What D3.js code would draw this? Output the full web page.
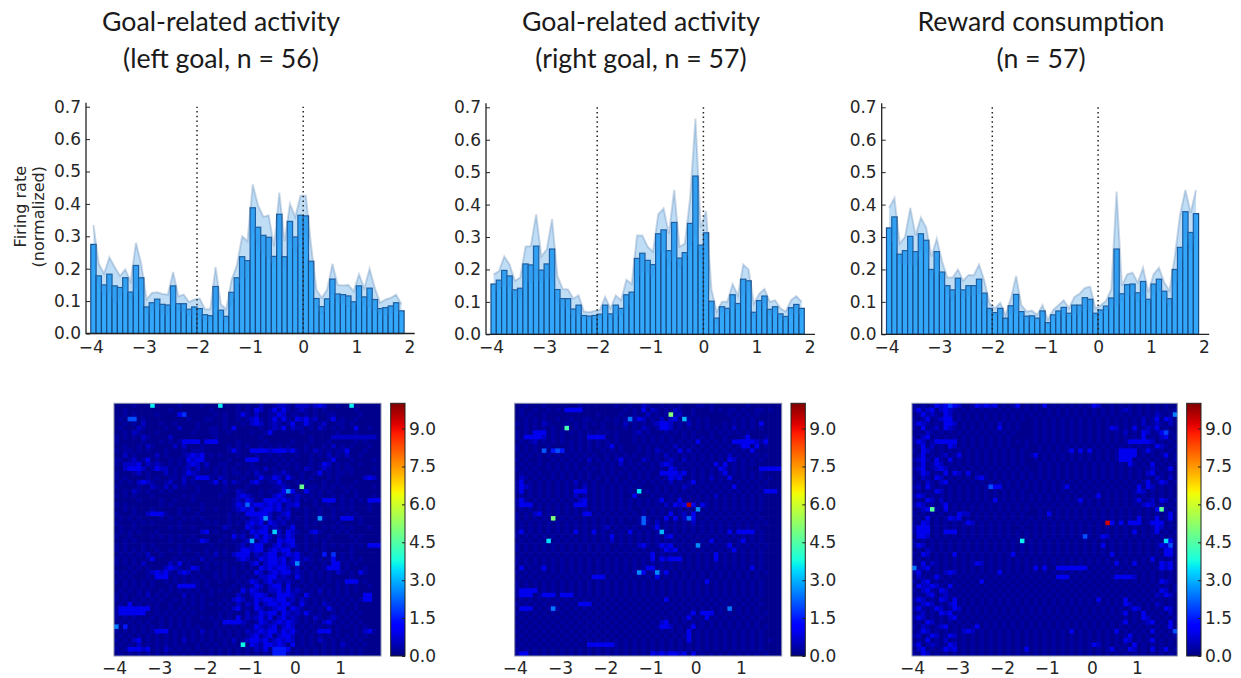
<!DOCTYPE html>
<html><head><meta charset="utf-8">
<script src="https://cdn.jsdelivr.net/npm/d3@7/dist/d3.min.js"></script>
<style>html,body{margin:0;padding:0;background:#fff}svg{display:block}</style></head>
<body><svg id="c" width="1241" height="678"></svg>
<script>
const titles = [
  ["Goal-related activity", "(left goal, n = 56)"],
  ["Goal-related activity", "(right goal, n = 57)"],
  ["Reward consumption", "(n = 57)"]
];
const yLabel = ["Firing rate", "(normalized)"];
const yTicks = [0, .1, .2, .3, .4, .5, .6, .7];
const xTicks = [-4, -3, -2, -1, 0, 1, 2];
const heatXTicks = [-4, -3, -2, -1, 0, 1];
const cbTicks = [0, 1.5, 3, 4.5, 6, 7.5, 9];
const binStart = -4, binWidth = 0.1;

const mean1 = [.275,.178,.15,.183,.147,.142,.172,.128,.21,.172,.082,.095,.106,.09,.088,.147,.092,.092,.075,.082,.077,.058,.055,.145,.072,.053,.127,.172,.237,.225,.388,.328,.303,.297,.238,.368,.237,.346,.298,.365,.363,.223,.108,.083,.107,.168,.122,.12,.116,.098,.147,.113,.14,.105,.077,.08,.085,.095,.07];
const upper1 = [.335,.215,.185,.235,.205,.178,.198,.16,.28,.215,.105,.125,.127,.122,.12,.19,.115,.12,.097,.105,.108,.075,.075,.205,.09,.075,.165,.21,.30,.285,.46,.395,.36,.365,.27,.435,.285,.40,.36,.425,.425,.27,.135,.11,.135,.215,.15,.148,.15,.13,.183,.14,.2,.14,.095,.105,.11,.12,.09];
const lower1 = [.215,.141,.115,.131,.089,.106,.146,.096,.14,.129,.059,.065,.085,.058,.056,.104,.069,.064,.053,.059,.046,.041,.035,.085,.054,.031,.089,.134,.174,.165,.316,.261,.246,.229,.206,.301,.189,.292,.236,.305,.301,.176,.081,.056,.079,.121,.094,.092,.082,.066,.111,.086,.08,.07,.059,.055,.06,.07,.05];

const mean2 = [.155,.167,.197,.18,.137,.142,.217,.214,.272,.198,.217,.263,.138,.11,.11,.078,.09,.058,.056,.058,.062,.09,.063,.09,.08,.122,.13,.234,.25,.228,.215,.31,.322,.258,.345,.235,.252,.342,.488,.275,.313,.102,.05,.085,.08,.122,.095,.17,.165,.068,.104,.118,.077,.085,.063,.055,.082,.092,.08];
const upper2 = [.185,.195,.24,.215,.165,.175,.27,.272,.37,.24,.262,.355,.18,.14,.138,.11,.12,.07,.068,.072,.075,.115,.08,.12,.105,.168,.155,.305,.305,.27,.255,.37,.388,.31,.445,.27,.28,.42,.665,.33,.38,.14,.07,.1,.1,.155,.12,.215,.2,.095,.125,.14,.1,.105,.08,.07,.105,.118,.1];
const lower2 = [.125,.139,.154,.145,.109,.109,.164,.156,.174,.156,.172,.171,.096,.08,.082,.046,.06,.046,.044,.044,.049,.065,.046,.06,.055,.076,.105,.163,.195,.186,.175,.25,.256,.206,.245,.2,.224,.264,.311,.22,.246,.064,.03,.07,.06,.089,.07,.125,.13,.041,.083,.096,.054,.065,.046,.04,.059,.066,.06];

const mean3 = [.328,.362,.247,.258,.302,.255,.31,.29,.2,.255,.192,.15,.137,.173,.137,.15,.15,.17,.127,.08,.067,.08,.05,.088,.123,.07,.056,.057,.05,.072,.036,.06,.072,.083,.065,.09,.09,.113,.108,.065,.075,.087,.112,.263,.125,.153,.155,.128,.163,.108,.155,.17,.133,.11,.2,.268,.378,.314,.372];
const upper3 = [.39,.42,.28,.30,.39,.305,.36,.33,.24,.295,.225,.175,.175,.2,.165,.183,.182,.215,.165,.095,.08,.097,.06,.11,.18,.09,.07,.073,.06,.09,.045,.075,.09,.105,.08,.115,.125,.143,.147,.08,.09,.103,.14,.44,.15,.185,.19,.16,.205,.13,.185,.205,.16,.135,.24,.37,.445,.375,.445];
const lower3 = [.266,.304,.214,.216,.214,.205,.26,.25,.16,.215,.159,.125,.099,.146,.109,.117,.118,.125,.089,.065,.054,.063,.04,.066,.066,.05,.042,.041,.04,.054,.027,.045,.054,.061,.05,.065,.055,.083,.069,.05,.06,.071,.084,.086,.1,.121,.12,.096,.121,.086,.125,.135,.106,.085,.16,.166,.311,.253,.299];

// Trial-by-bin rates: one string per row, one character per bin (rows run top to bottom).
const levels = {".":0.12, "-":0.3, "+":0.6, "#":0.95, "@":1.45};
const heat1 = [
"....-.........-....-.......-.-..+..-++-.+++-+#+..-.........",
"..-.........-........-.....-.-.#+.-#-#-.-+-.-.-......-.....",
"..-.-....-....#.......-.-..-#-.+..--#+.--.-.-..--.....-....",
".-.##.-.........-...--..-..-.-+#-.-#-#-.#+#-+..-#.-..-.....",
"..-.-.+...-..-....-.....-...-.+#+.-+-.-#.-#-.-+..--.-......",
".-...+-....-..+...-..--.-.#.....-.-+-#.+--.-.+-.-.-..#..-..",
"..-.+-...-.......-...--..-....-..-#......-.......-...-.....",
"-.-.-.+-....+.........-.........-..........-....++++++++++.",
"-.....-...-.-.-####.###....-.....-.....-...-...-.....-.-...",
"..-..-.+-....+.+...-.....-.-.-..-.-.-.-...-...-.+.-.-...-..",
"-.--.-.-...-...-.---.....-#-..####+###+#-.-.+-.-.--#...-...",
"..+.-....+.-...-+#+#.-.-...-...-..-.-...-..-.-.+.-.+..-....",
"--.-+.-#.-..-.-.#+##.....-...###.-.-.-.-...-...-#...-....-.",
"-.+++#.+-+-.-.-.+#+.+..--..-..-.....-.-.-..-.-#+.-.-..-....",
"..+###+.-#++.-.-+.+.-.-.-.-...--.+.-.-..-.+-.-+-.-.--....-.",
"-...-+.-...+.-.-#+-...-.-.--.-.+-..--+-..-..-#.-.--.-......",
"-.-....-.-..--.+.-###-.+-...-..-#--#+.#-.-.-...-.-.....+#+.",
".-.-.+#+-..-+..+.-...-#.+.+-..+#-.--#-..-.-...-..-...-.....",
"-....-..+-.+.+.-..-.....-....-.....--+-..-.--.-.-.-.-....-.",
"..-.+-.-..-.-.....-.....-..+-...-.-.-###..#-.-.-...-.-.....",
"-.-.-...-......-.-.....-...+#+-.-..+#+.-+-.-.-..-.-..-...-.",
".....-....-..-...-........-+-#+..###+#+-+.-.-.###.-.-.-.###.",
"-.-.......-.-......-......-#+.+##+#+#.++#...-..-..-.-...-..",
"..-.-...-.....-.-..-..-...-+#+#.+##+#-+.-.-..-..-.-.-...-..",
"-...-..+###-..-...-......-.-.#####+.-+#...-..-..-..-.-.....",
".-.-.-....-.-..-.-.-.....-..-.++##+.+-+.-.-...-.-.###.-....",
"-...-.-.-.....-.....-.-..-.-.+#+#.#+-+.-..-.-....-....-....",
".-..-.......-.-..-......+-...#+-+#-+-.-#..-...-.-.-.-...-..",
".-.-.-...-.........+#.-...-.-.#+##.#+.#+-..+#-...-.-.......",
"-..-....-.-.-.-..-......-.#-+.-#-#+.+-#+..-.-..-....-.-....",
"..-.-.......-...-.-#+..-..-.-+#.+#-.#+##..-.-.-......-.....",
"-.-...-.-.....-......-.....-+.+##..+#-+#-.-...-.-.-.-.-.###",
"-.-.-.-..-..-.-.-...-.-.-..-##+##.+#+##.-.-.-.-.....-......",
".-.-.-.+..-...-...-.-.+.-.+###.+-+##.+#+#-.-..@.-.-.-......",
"-.-.-..-#....-.-.-.+.-.....+#+.-#+##+#.+#-+-.-.-#.-.-.-....",
"-.-.-.+.....+.#.-...-.-.-...-.+#.+##+#-++-.-..-.##.-.-.....",
"...-.-.-...+#+-.-#+.-...-.-.-.-.#+#+##+.+.-.-.-###.-...-...",
"-.-.-..-+#+#-.+#+.-...-.-.-..-.#+.+#+##-+-.-.-.-.+-.-.#-...",
".-.-...-.###.-.-.-.-..-.-.-.-.-.++##-+-.#-.-.-.-....-......",
"-.-.-.-.-..-.-.-.--.-..-...-.-#+.+#-+-+-.-.-...-.-.###.-...",
"..-.-.-.-...-.####-.-.....-.-.-#+.+##.#.-.-.-.-..-.-.-..-..",
".-.-.-.-..-.-.-.-.-..-.-.-..#-#+-.++#-#-+-.-.+.-.-.-.-.....",
"-.-..-.+.-.-...+.-.-.-.....+-.+##+.-###+-.#-.-.-.-.-...##..",
"-.-.-.-.-.-..-.-.-.-....-.+#+.-#+##+##-+.+-.-.-.-.-.-.-##..",
".-.#.-.-.-..-..-.-.-.-.-.-.+.+-#.+##+##-.#-.-.+-.-.-.-.....",
"-#######.-..-.-.-..-....-.+#.-.#+.-+##.#+-.-.-.#-.-..-.....",
"-######..-.-.-.-.-.....-.-...+.-#+##.#+-+-#-.-..-.-.-.-....",
"-.-.-...-.-.-.-.-..-.-.-.-.#.+-+#-#.+#-+-.-.+-.-+-.-.-.....",
".-.-.-.-..-.-.-.-.....-.####+-.-#+-+#+#+-.-.-.+#-.-.-.-....",
"..@.-.-.-.-.-.-.-.-...-.-.-.-.-#+-+#.+#+.-.-.-.-.-.-.-.-...",
"-.-.-.-.-###.-.-.-.+.-.-.-.-.+-+#+##-#+#-.-.-###.-...-.+#-.",
".-.-.-.-.-.-.-.-.-.-.-.-.-.-.-+#-+#.+##+.-.-.-.-.-.-.-.-...",
"-.-.+#.-.-.-.-.+.-.-.-..-.+.-+##+#-+#+#+.-.-.+-.-.-.-.-....",
".-.-.+.-.-.-.-.-..-.-.-.-.-.-.#+-##+#+.#.-.-..-.-.+-.-.-...",
"-.-###+#.-.+-.-.-.-..-.-.-.-.-.+-#.@@@#.-.-.-.-.-.-.-.-....",
".-.-.-.-.-.-.-.-.-.-.-.-.-.-.-.-.-.@@@-.-.-.-.-.-.-.-.-...."
];
const hot1 = [[8,0,3.6],[23,0,3.6],[52,0,3.6],[3,3,2],[4,3,2],[15,2,1.7],[41,18,4.8],[38,19,2.6],[29,22,2.2],[33,25,2.7],[45,25,2.7],[35,28,3.3],[30,30,2.9],[40,35,2.6],[28,53,3.7],[0,49,2.5],[48,33,1.7]];

const heat2 = [
"..-...-.......-.......-..-..+-..-.-.-...--.-.......-.......",
".-..-..-.-.####.........-.-.#.+-.-.+-..-...-.-.--.-..--.-..",
".-.-..-...........-....-..-..+.-.-.-+..-.......-.-.-.-.....",
"..-.-.-..-..-..--...-.-.-.-#+.-.+.+#..-.-.-.....-.-.-......",
"-.-.-.+-...-.-.-.-.-..-.+.-.-.-+##+.-.+.-.-...-.-.-.-.#....",
"..-.-.-.-..-.-.-...-....-.-.+-.-##+.-.-.-.-.-.-.+.-.-.-....",
"-.-.###.-.-.-.-.-.-.-.-...-+.-...-.-.-.-...-.-.-.-.-.......",
"-.####+.-.-...-.####..-...-.-.-.-.-..-.-.-.-..-...-#...-...",
".-.-+.-.-.-.-.-.-.-.-.-...-.-.-.-.-.-.-.#.-.-.-.#####+-#...",
"-.-.-..-....-.-.-.-.-#.-...-.-.-.-.+.-.-.-.-.-.-.-##.#.-...",
"-.-.-.-.@.@.-.-.-..-.-.-...-.-.+-.-.#.+.-.-.-.-.-.-.#......",
".-.-.-.-.-.-.-.-.-..-.-.-.-..-.-.+.-.-.-.-.-.-.+.-.-.-.-...",
"-.-..-..-.-.-.-.+.-.-.-#.-..+-.-.-+-.+.-.-.-.-.#+.-.-.-....",
".-.-.-.-.-.-.-..-..-.-.+.-.-..-.+#+.-.-.-.-.#.#.-.-.-......",
"-.-.-..-.-.-.-.-.-.-.-..-.-.-.-.-.#+.-.-.-.-.#+.-.-...#####",
".-.-.-..-.-.-.-.-..-.-.-.-.-.-..####+#.-.-.-.-#.-.-.-.-....",
".+-.-.-.-.-.-.-.-.-.-.-..-.-.-.-.-#+#..-.-.+.-.#..-.-.-.-..",
"-#.-.-.-.-.-.+.-.-..-.-.-.-.-.-.-.+.-.-#.-.-.-.-.-.-.-.-...",
"-#+-.-.-.-.-.-.+.-.-.-.-.-.-...-.-.-.+-.-.-.-.-.#.-.-.-....",
"-#.-.-.-.-.-.###.-.-.-.-.-.-.-.-.-.-.-.-.-.-.-.-.-.-.-.###.",
".-.-.-.-.-.-.+.-.-.-.-.-..#...-.-.-.-.-.-.-.+.-.-.-.-.-....",
"-#-.-.-.-.-.-.+#.-.-.-.-.-.-.-.-#.-.#.-.-.-.-.-.-.-.-.-....",
"-###.-.-.-.-.###.-.-.-.-.-.-.-.-.+.#+###.#-.-.-.-.-.-.-....",
".-.-.-.-.-.-.-.-.-.-.-.-.-..-.-.-.-.-.-.-.-.-.-.-.-.-.-....",
"-.-.+#.-.-.-.-.##.-.-.-.-.-.-.-.-.#.-+.#.-.-.-.-.-.-.-.....",
"-.-.-.-.-.-.-..-.-.-.-.-.-.-.-.-.#.#.+.#..-.-.-.-.-.-.-....",
".-.-.-.-.-.-.-.-.-.-.-.-...-.-.+.-.-.-.+.-.-.-.-.-.-.-.-...",
".-.-.-.-.-.-.-.-.-.-+.-.-.-.-.-#.-.-.-.-.-.-.-.-.-.-.-.....",
"-#.-.-.-.-.-.#.-.#.-.-.-.#.-.-.-.-.-.-.-.-.-.-.#.####.-....",
"-.-.-.-.-.-.-..-.-.-.#.-.-.-.-.-.+#.-.-.-.-.-.-.-.-.-.-....",
".-.-.-.-.-.-.-.-.-.-.+.-.-.-.-.-.-.-.-.-.-.#.-.-.-#.-.-....",
"-.-.-.-.-.-.-.-.-.-.-..-.-.+#-.-#+#.-.-.-.-.-.-#.-.-.-.-...",
"-.-.-.-.-.-.-.-.-.-.-.-.-.-.-.-.-#+#.-.-.-.-.-.-#.-.-.-....",
".-.-.-.-.-.-.-.-.-.-.-.-.-.-.-#.-.-.-.-.-.-.#.-.-.-.-.-....",
"-.-.-.-.-.-.-.-.-.-.-.-.-.-.-.#.#+###.-.-.-.#.-.-.-.-.-....",
"-.-.-.-.-.-.-.-.-.-.-.-.-.-.-.-.-.-.-.-.-.-.-.-.-.-.-.-....",
".#.-.-#.-.-.-.-.-.-.-.-.-.-.-##.-.-.-.-.-.-.-.-.-.-.#.-....",
"-.-.-.-.-.-.-.-.-.-.-.-.-.-.#.-.-#.-.-.-.-.-.-.-.-.-.-.-...",
".-.-.-.-.-.-.-.-.###.-.-.-.-.-.#.-.-.-.-.-.-.-.-.-.-.-.....",
"-.-.-.-.-.-.-.-.-.-.-.-.-.-.-.-.-.-.-.-.-.#.-.-.-.-.-.-....",
"-.-.-.-.-.-.-.-.-.-.-.-.-.-.-.-.-.-.-.-.-.-.-.-.-.-.-.-....",
"-####.-.-.-.-.-.-.-.-.-.-.-.-.-.-.-.-.-.-.-.-.-.-.-.-.-....",
"-###.-###.###.-.-.-.-.-.-.-.-.-.-.-.-.-.-.-.-.-.-.-.-.-....",
".-.-.-.-.-.-.-.-.-.-.-.-.-.-.-.-.#.-.-.-.-.-.-.-.-.-.-.....",
"-.-.-.-.-.-.-.###.-.-.-.-.-.-.-.-.-.-.-.-.-.-.-.-.-.-.-....",
".###.-.-.-.-.-.-.-.-.-.-.-.-.-.-.-.-.-.-.-.-.-.-.-.-.-.....",
"-.-.-.-.-.-.-.-.-.-.-.-.-.-.-.-.-.-.-.-#.###.-.-.-.-.-.-...",
".-.-.-.-.-.-.-.-.-.-.-.-.-.-.-.-.-.-.-#.-.#.-.-.-.-.-.-....",
"-.-.-.-.-.-.-.-.-.-.-.-.-.-.-.-.+#.-.-.-.-.-.-.-.-.-.-.....",
".-.-.-.-.-.-.-.-.-.-.-.-.-.-.-.-##+.-.-#.-.-.-.-.-.-.-.-...",
"-.-.-.-.-.-.-.-.-.-.-.-.-.-.-.-.-.-.-.#.-.-.-.-.-.-.-.-....",
".-.-.-.-.-.-.-.-.-.-.-.-.-.-.-.-.-.-.-#.-.-.-.-.-.-.-.-....",
"-.-.-.-.-.-.-.-.-.-.-.-.-.-.-.-.-.-.-.#.-.-.-.-.-.-.-.-.-..",
".-.-.-.-.-.-.-..######-.-.-.-.-.-.-.-.-.-.-.-.-.-.-.-.-....",
"-.-.-.-.-.-.-.-.-.-.-.-.-.-.-.-.-.-.-.-.-.-.-.-.-.-.-.-....",
"-##.-.-.-.-.-.-.-.-.-.-.-.-.-.#+#+##+#.#.-.-.-.-.-.-.-.-..."
];
const hot2 = [[34,2,5.1],[25,3,2.4],[37,3,3],[11,5,4.4],[6,10,2.1],[9,10,2],[27,19,3.5],[38,22,9.6],[40,23,2.6],[8,25,5],[38,25,2.3],[28,25,2.2],[28,26,2.2],[32,28,3],[7,30,3.4],[40,31,2.6],[27,37,2.6],[31,37,2.6],[8,45,2.4],[47,45,2.4]];

const heat3 = [
"-.-.-#+#+#+..-#+#+#.-.-#.-.-.#.-.-.-.-.-#+..-.-.-.-.-.-.-..",
"-#-+#.+#+-.-.-.-.-.-.-.-.-.-..-.-.-.-.-.-.-.-.-+-.-.-.-.-.-",
".-#-+-.#+.-.-.-.-.-.-.-.-.-.-.-.-.-.-.-.-.-.-.-.-.-.-.+-.-.",
"-.-#.-+##.-.-.-.-.-.-.-.-..-.-.-.-.-.-.-.-.-.-.-.-.+.-#.#+.",
"-#+-.-.##+.-.-.-.-.+.-.-...-.-.-.-.-.-.-.-.-.-.-.-.+.-+-.+.",
"-.#.-+.#+-.-.-.-.-.#.-.-...-.-.-.-.-.-.-.-.-#+.-.#.-+-#.-..",
".-.+-.-.-.-.-.-.-.-.-.-....-.-.-.-.-.-.-.-.-.-.+.-.#+.-#.-.",
"-.+#.-.-.-.-.-.-.-.-.-.....-.-.-.-.-.-.-.-.-.-.-.-.#.-.+#.-",
"-#+.-#####.-.-.-.-.-.-.-.-.-.-.-.-.-.-.-.-.-.-.-#####+.-.-.",
".-#.+.-.#+.-.-.-.-.-.-...-..-.-.-.-.-.-.-.-.-.-.-.-.-.#+-.-",
"-.#+-.-.-.-.-.-.-.-.-.-.-...-.-.-.-#.#.#.-.-.-####.-#-.-.-.",
".-#.-.-+.-#.-.-.-.-.-.-.-.-#.-.-.-.-.-.-.-.-.-####.-.-.-#.-",
"-+#-.#-.#.-.-.-.-.-.-.-.-..-.-.-.-.-.-.-.-.-.-###.-.-.-.-.-",
".-#.-#+.-.-.-.-.-.-.-.-.-...-.-.-.-.-.-.-.-.-.-.#-.-.#.-.-.",
"-+#.-+#+.-.-.-.-.-.-.-.-.-..-.-.-.-.-.-.-.-.-.-.-.-.-+-.-#.",
".-#+.-.#.#+.#.-.-.-.-.-.-.-.-.-.-.-.-.-.-.-.-.-.-.-.+#.-.-.",
"-.+-.#+.-.-.-.+#-.-.-.-.-.-.-.-.-.-.-.-.-.-.-.-.-.-.-.+-.+.-",
".-.+-.+#.-.-.-.-.-.-.-.-.-.-.-.-.-.-.-.-.-.-.-.-.-.-#.-#+.-",
"-+.#-.-.-.-.-.-.-###.-.-.-.-.-.-.-#.-.-.-.-.-.-.-.#.#+.-.-.",
".-.-.#+.-.-.-.-.-.-.-.-.-..-.-.-.-.-.-.-.-.-.-.-.-#+.-.-.-.",
"-#+.-.-.-.-.-.-.-.-.-.-.-.-.-.-.-.-.-.-.-#.-.-.-.-.-.-.-.-.",
".-.#+.+.-.-.-.-.-.#.-.-.-.-.-.-.-.-.-#.-.-.-.-.-.-#.-+.#+.-",
"-#+.-.-#.-.-.-.-.-.-.-.-.-.-.-.-.-.-.-.-.-.-.-.-.-.+#+.-.-.",
".-+#.-.#.-.-.-.-.-.-.-.-.-..-.-.-.-.-.-.-.-.-.-.-.-.-.#.-.-",
"-.-.-.-.-.#++.-.-.-.-.-.-...-.#.-.-.-.-.-.-.-.-.-.-.-.-.-#.",
".-.#.-.-#+#.-.-.-.-.-.-.-.-.-.-.-.-.-.-.-.-.-.-.-.#.-.#.-#.",
"-.#+.-.-.-.-#+.-.-.-.-.-.-.-.-.-.-.-.-.-.-.-#.#.###.-###.-.",
"-###.-.-.-.-.-.-.-.-.-..-..-.-.-.-.-.-.-.-.-.-.-.-.-.-#+.-.",
"-###.-.###.-.-.-.-.-.-.-.-.-.-.-.-.-.-.-.-.-.-.-.#.-.-#.-.-",
".##+.-.-.-.-.-.-.-.-.-.-.-.-.-.-.-.-.-.-.-#+.-.-.-.-.-.-.-.",
"-.-.-.-.-.-.-.-.-.-.-.-.-.-.-.-.-.-.-.-.-.-.-.-.-.-.-.-.+#.",
"-#+.-.-.-.-.-.-.-.-.-.-.-.-.-.-.-.-.-.-.-.#.-.-.-.-.-.-#+#.",
".-.+-.-.-.-.-.-.-.-.-.-.-.-.-.-.-.-.-.-.-.-.-.-.-.-.-.-.##.",
"-.#+.-.-.#.-.-.-.-.-.-#.-.-.-.-.-.-.-.-.-.-.#.-.-.-.-.-.##.",
".-.-.-.-.-.-.-.-.-.-.-.-.-.-.-.-.-.-.-.-.-.-.-.-.-.-.#.-.-.",
"-.#.+-.-.-.-.-#+.-.-.-.-.-.-.-.-.-.-.-.-.-.-.#.-.#.-.-.#+#.",
".-+#.-.-.-.-.-.-.-.-.-.-.-.#.#..#######.-.-.-.-.-.-.-.-#+#.",
"-#.-.-.+#+.-.-.-.-.#.-.-.-.-.-.-.-.-.-.-.-.-.-.-.-.-.-.-.-.",
".+-.-#-.-.-.-.-.-.-.-.-.-.-.-.-.###.-.-.-.-.-####+.-.-.-.-.",
"-.+#.-.-.-.-.-.#.-.-.-.-.-.-.-.-.-.-.-.-.-.-.-.-.-.-.-.#+-.-",
".#++#+-.#.-.-.-.-.-.-.-.-.-.-.-.-.-.-.-.-.-.-.-.-.-.-.-.-.-",
"-.+#-.#+.-.-.-.-.-.-.-.-.-.-.-.-.-.-.-.-.-.-.-.-.-.-.-.#+.-",
".-.+#.-+-.-.-.-.-.-.-.-.-.-.-.-.-.-.-.-.-.-.-.-.-.-.-.+-#+.",
"-#+.-.#+.#.-.-.-.-.-.-.-.-.-.-.-.-.-.-.-.#.-.-.#.-.-.-.-.-.",
".-+#+.-.+#.-.-.-.-.-.-.-.-.-.-.-.-.-.-.-.-.-.-.#+.-.-.+-.-.",
"-#-.-#+.-#+.-.-.-.-.-.-.-.-.-.-.-.-.-.-.-.-.-.-.-#+.-.-.#+.-",
".-+.-.#+#.-.-.-.-.-.-.-.-.-.-.-.-.-.-.-.-.-.-.-#.-.#.-.-.+.",
"-#+.-.-.+#.-.-.-.-.-.-.-.-.-.-.-.-.-.-.-.-.-.-.-.-.#+.-.-.-",
".-.#+.-.-.-.-.-.-.-.-.-.-.-.-.-.-.-.-.-.-.-.-.-#.-.-+#.-.#.",
"-.+-.-+#.-.-.-#.-.-.-.-.-.-.-.-.-.-.-.-.-.-.-.-.-.-.-.-.-#.",
".-#+.-.-.-.+#+.-.-.-.-.-.-.-.-.-.-.#.-.-.-.-.#.-.-.-.#.-.-.",
"-+.-#+.-#+.-.-.-.-.-.-.-.-.-.-.-.-.-.-.-.-.-.-.-#.-.-.-.-.-",
".-.#.-.+.-.-.-.-.-.-.-.-.-.-.-.-.-.-.-.-.-.-.-.#+.-.-#.-.-.",
"-#.-+-.-#+.-.-.-.-.-.-.-.-.-.-.-.-.-.-.-#+.-.-.-.#.-.-.-.-.",
".+#.-.-#+#.-.-.-.-.-.-.-.#.-.-.-.-.-.-.-.-.-#.-.#+.-.#.-#.-",
"-.#+.-.-.-.-.-.-.-.-.-.-.-.-.-.-.-.-.-.-.-.-.-.-.-.-.-.-.-."
];
const hot3 = [[8,0,1.7],[58,2,2.5],[56,6,1.9],[17,18,2],[4,23,4.6],[55,23,4.6],[43,26,9.3],[38,29,2],[24,30,3.6],[56,30,3.4],[57,31,2],[0,36,2.4],[58,50,2]];

const panels = [
  {title:titles[0], mean:mean1, upper:upper1, lower:lower1, ax:86, x0:90.8, unit:53.1, y0:333.5, y7:106.7, heat:heat1, hot:hot1, hx0:114, hx1:381, cb:390.7},
  {title:titles[1], mean:mean2, upper:upper2, lower:lower2, ax:486, x0:491, unit:53.1, y0:334.3, y7:107.3, heat:heat2, hot:hot2, hx0:514.7, hx1:781.7, cb:791},
  {title:titles[2], mean:mean3, upper:upper3, lower:lower3, ax:881.7, x0:886.5, unit:52.9, y0:334.3, y7:107.3, heat:heat3, hot:hot3, hx0:912, hx1:1177.3, cb:1186.7}
];
const titleCx = [221, 641, 1041];
const hy0 = 403.3, hy1 = 656, nRows = 56, nCols = 59, vmax = 10;

const svg = d3.select("#c");
const defs = svg.append("defs");
defs.append("filter").attr("id","soft").attr("x","-2%").attr("y","-2%").attr("width","104%").attr("height","104%")
  .append("feGaussianBlur").attr("stdDeviation",0.55);
const cbGrad = defs.append("linearGradient").attr("id","jet").attr("x1",0).attr("x2",0).attr("y1",1).attr("y2",0);

// matplotlib "jet" channel definitions
const chR = d3.scaleLinear().domain([0,.35,.66,.89,1]).range([0,0,1,1,.5]);
const chG = d3.scaleLinear().domain([0,.125,.375,.64,.91,1]).range([0,0,1,1,0,0]);
const chB = d3.scaleLinear().domain([0,.11,.34,.65,1]).range([.5,1,1,0,0]);
const jet = v => { const t = Math.min(1, Math.max(0, v / vmax));
  return d3.rgb(chR(t)*255, chG(t)*255, chB(t)*255).formatHex(); };
d3.range(0, 1.0001, .02).forEach(t => cbGrad.append("stop").attr("offset", t).attr("stop-color", jet(t*vmax)));

const FONT = "'DejaVu Sans', sans-serif", INK = "#262626";
const styleAxis = g => {
  g.selectAll("text").style("font-family", FONT).style("font-size", "17px").attr("fill", INK);
};

panels.forEach((p, i) => {
  // title
  const t = svg.append("text").style("font-family","Lato, sans-serif").style("font-size","26.7px").attr("fill","#1a1a1a").attr("text-anchor","middle");
  p.title.forEach((line, k) => t.append("tspan").attr("x", titleCx[i]).attr("y", 31 + k*37).text(line));

  const x = d3.scaleLinear().domain([-4, 2]).range([p.x0, p.x0 + 6*p.unit]);
  const y = d3.scaleLinear().domain([0, .7]).range([p.y0, p.y7]);
  const g = svg.append("g");
  const bins = p.mean.map((m, k) => ({start: binStart + k*binWidth, m, u: p.upper[k], l: p.lower[k]}));

  // bars
  g.selectAll("rect.bar").data(bins).join("rect").attr("class","bar")
    .attr("x", d => x(d.start)).attr("width", x(binWidth) - x(0))
    .attr("y", d => y(d.m)).attr("height", d => y(0) - y(d.m))
    .attr("fill","#33a8fb").attr("stroke","#174a85").attr("stroke-width",1.2);

  // error band, drawn translucent on top of the bars
  const cx = d => x(d.start + binWidth/2);
  g.append("path").datum(bins)
    .attr("d", d3.area().x(cx).y0(d => y(d.l)).y1(d => y(d.u)))
    .attr("fill","#2d8fe0").attr("fill-opacity",.3);
  g.append("path").datum(bins)
    .attr("d", d3.line().x(cx).y(d => y(d.u)))
    .attr("fill","none").attr("stroke","#37699c").attr("stroke-opacity",.25).attr("stroke-width",2);

  // event markers
  [-2, 0].forEach(v => g.append("line").attr("x1",x(v)).attr("x2",x(v)).attr("y1",p.y0).attr("y2",y(.7))
    .attr("stroke","#222").attr("stroke-width",1.5).attr("stroke-dasharray","1.5 3.2"));

  // axes
  const spineR = x(2.1);
  const ax = svg.append("g").attr("transform",`translate(${p.ax},0)`)
    .call(d3.axisLeft(y).tickValues(yTicks).tickFormat(d3.format(".1f")).tickSize(-4).tickPadding(5));
  ax.select(".domain").remove();
  ax.call(styleAxis); ax.selectAll("line").attr("stroke","#222");
  const bx = svg.append("g").attr("transform",`translate(0,${p.y0})`)
    .call(d3.axisBottom(x).tickValues(xTicks).tickFormat(d3.format("d")).tickSize(0).tickPadding(7));
  bx.select(".domain").remove();
  bx.call(styleAxis);
  g.append("line").attr("x1",p.ax).attr("x2",p.ax).attr("y1",p.y0+.5).attr("y2",y(.7)-4).attr("stroke","#222").attr("stroke-width",1.3);
  g.append("line").attr("x1",p.ax).attr("x2",spineR).attr("y1",p.y0).attr("y2",p.y0).attr("stroke","#222").attr("stroke-width",1.3);

  // heat map
  const hx = d3.scaleLinear().domain([-4, 1.9]).range([p.hx0, p.hx1]);
  const hy = d3.scaleLinear().domain([0, nRows]).range([hy0, hy1]);
  const cells = [];
  p.heat.forEach((row, r) => { for (let c = 0; c < nCols; c++) cells.push({c, r, v: levels[row[c]] ?? levels["."]}); });
  p.hot.forEach(([c, r, v]) => { cells[r*nCols + c].v = v; });
  const hm = svg.append("g").attr("filter","url(#soft)");
  hm.selectAll("rect").data(cells).join("rect")
    .attr("x", d => hx(-4 + d.c*binWidth)).attr("y", d => hy(d.r))
    .attr("width", d => hx(binWidth) - hx(0) + (d.c < nCols-1 ? .7 : 0))
    .attr("height", d => hy(1) - hy(0) + (d.r < nRows-1 ? .7 : 0))
    .attr("fill", d => jet(d.v));
  svg.append("rect").attr("x",p.hx0).attr("y",hy0).attr("width",p.hx1-p.hx0).attr("height",hy1-hy0)
    .attr("fill","none").attr("stroke","#8a8fa8").attr("stroke-width",1);
  const hb = svg.append("g").attr("transform",`translate(0,${hy1})`)
    .call(d3.axisBottom(hx).tickValues(heatXTicks).tickFormat(d3.format("d")).tickSize(0).tickPadding(6));
  hb.select(".domain").remove(); hb.call(styleAxis);

  // colour bar
  const cy = d3.scaleLinear().domain([0, vmax]).range([hy1, hy0]);
  svg.append("rect").attr("x",p.cb).attr("y",hy0).attr("width",14.3).attr("height",hy1-hy0)
    .attr("fill","url(#jet)").attr("stroke","#222").attr("stroke-width",1);
  const cg = svg.append("g").attr("transform",`translate(${p.cb+14.3},0)`)
    .call(d3.axisRight(cy).tickValues(cbTicks).tickFormat(d3.format(".1f")).tickSize(-3).tickPadding(4));
  cg.select(".domain").remove(); cg.call(styleAxis); cg.selectAll("line").attr("stroke","#222");
});

// shared y label (lines share their top end, as in the reference)
const yl = svg.append("text").style("font-family",FONT).style("font-size","16px").attr("fill",INK)
  .attr("text-anchor","end").attr("transform","translate(0,166) rotate(-90)");
yLabel.forEach((s, k) => yl.append("tspan").attr("x",0).attr("y", 26 + k*18).text(s));
</script></body></html>
